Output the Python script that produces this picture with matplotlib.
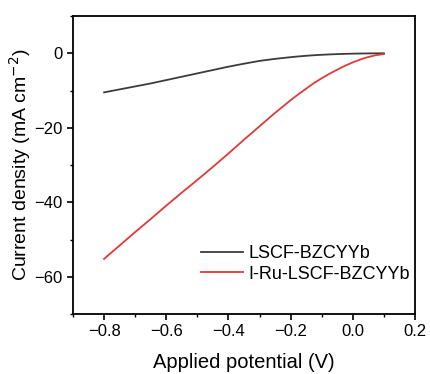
import numpy as np
import matplotlib
matplotlib.use("Agg")
import matplotlib.pyplot as plt
from matplotlib.ticker import MultipleLocator

plt.rcParams['font.family'] = ['Liberation Sans', 'DejaVu Sans']

# data
potential = [-0.80, -0.75, -0.70, -0.65, -0.60, -0.55, -0.50, -0.45, -0.40, -0.35,
             -0.30, -0.25, -0.20, -0.175, -0.15, -0.125, -0.10, -0.075, -0.05,
             -0.025, 0.00, 0.025, 0.05, 0.075, 0.10]
lscf = [-10.5, -9.7, -8.9, -8.1, -7.2, -6.3, -5.4, -4.5, -3.6, -2.8,
        -2.05, -1.5, -1.05, -0.85, -0.68, -0.53, -0.41, -0.31, -0.23,
        -0.16, -0.11, -0.07, -0.04, -0.02, 0.0]
ru_lscf = [-55.2, -51.6, -48.0, -44.5, -40.9, -37.4, -34.0, -30.5, -26.9, -23.2,
           -19.6, -16.0, -12.6, -11.0, -9.5, -8.0, -6.7, -5.5, -4.4,
           -3.35, -2.45, -1.65, -1.0, -0.5, -0.2]
labels = ['LSCF-BZCYYb', 'I-Ru-LSCF-BZCYYb']
colors = ['#3c3c3c', '#e0393a']

fig = plt.figure(figsize=(4.31, 3.74), dpi=100)
ax = fig.add_axes([0.1694, 0.1604, 0.7935, 0.7968])

ax.plot(potential, lscf, color=colors[0], lw=1.3, label=labels[0])
ax.plot(potential, ru_lscf, color=colors[1], lw=1.3, label=labels[1])

ax.set_xlim(-0.9, 0.2)
ax.set_ylim(-70, 10)
ax.xaxis.set_minor_locator(MultipleLocator(0.1))
ax.yaxis.set_major_locator(MultipleLocator(20))
ax.yaxis.set_minor_locator(MultipleLocator(10))
ax.set_xticks([-0.8, -0.6, -0.4, -0.2, 0.0, 0.2])
ax.set_xticklabels(['\u22120.8', '\u22120.6', '\u22120.4', '\u22120.2', '0.0', '0.2'])

ax.tick_params(which='major', direction='out', length=4, width=1.2, labelsize=12)
ax.tick_params(which='minor', direction='out', length=2.5, width=1.0)
for s in ax.spines.values():
    s.set_linewidth(1.3)

ax.set_xlabel('Applied potential (V)', fontsize=14.5, labelpad=10)
ax.set_ylabel('Current density (mA cm$^{-2}$)', fontsize=14, labelpad=1)

ax.legend(loc='lower right', frameon=False, fontsize=13, handlelength=2.3,
          handletextpad=0.3, labelspacing=0.18, borderaxespad=0.0, borderpad=0.0,
          bbox_to_anchor=(0.985, 0.105))

fig.savefig('out.png', dpi=100)
